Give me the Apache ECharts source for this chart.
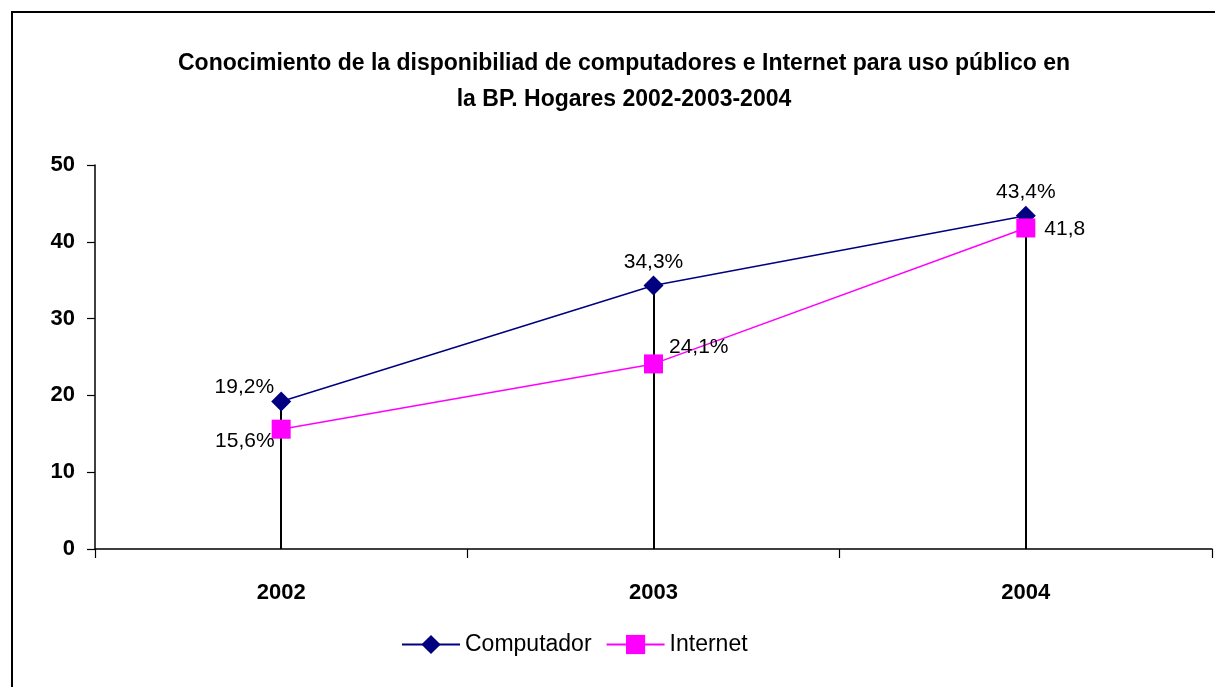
<!DOCTYPE html>
<html>
<head>
<meta charset="utf-8">
<script src="https://cdn.jsdelivr.net/npm/echarts@6/dist/echarts.min.js"></script>
<style>
  html, body { margin: 0; padding: 0; background: #fff; }
  #chart { width: 1215px; height: 687px; }
</style>
</head>
<body>
<div id="chart"></div>
<script>
const years = ['2002', '2003', '2004'];
const computador = [19.2, 34.3, 43.4];
const internet = [15.6, 24.1, 41.8];
const computadorLabels = ['19,2%', '34,3%', '43,4%'];
const internetLabels = ['15,6%', '24,1%', '41,8'];
const yTicks = [0, 10, 20, 30, 40, 50];

const font = '"Liberation Sans Narrow", "Arial Narrow", "Liberation Sans", sans-serif';

// label placement per point, like the original chart
const compPos = [
  { position: 'left', offset: [8, -14] },
  { position: 'top', offset: [0, 2] },
  { position: 'top', offset: [0, 2] },
];
const netPos = [
  { position: 'left', offset: [8, 12] },
  { position: 'right', offset: [1, -17] },
  { position: 'right', offset: [4, 1] },
];

const chart = echarts.init(document.getElementById('chart'));

chart.setOption({
  animation: false,
  textStyle: { fontFamily: font },
  title: {
    text: 'Conocimiento de la disponibiliad de computadores e Internet para uso público en\nla BP. Hogares 2002-2003-2004',
    left: 619,
    textAlign: 'center',
    top: 41,
    textStyle: { fontFamily: font, fontSize: 23, fontWeight: 'bold', color: '#000', lineHeight: 36 },
  },
  graphic: [
    {
      type: 'rect',
      shape: { x: 12, y: 12, width: 1300, height: 800 },
      style: { fill: 'none', stroke: '#000', lineWidth: 2 },
      silent: true,
      z: 100,
    },
  ],
  legend: {
    left: 396,
    top: 628,
    itemWidth: 58,
    itemHeight: 24,
    itemGap: 14,
    textStyle: { fontFamily: font, fontSize: 23, color: '#000' },
    data: ['Computador', 'Internet'],
  },
  grid: { left: 95, right: 3, top: 165, bottom: 138 },
  xAxis: {
    type: 'category',
    data: years,
    boundaryGap: true,
    axisLine: { lineStyle: { color: '#000', width: 1.5 } },
    axisTick: { show: true, length: 9, lineStyle: { color: '#000', width: 1.2 } },
    axisLabel: { color: '#000', fontSize: 22, fontWeight: 'bold', margin: 33, fontFamily: font },
    splitLine: { show: false },
  },
  yAxis: {
    type: 'value',
    min: yTicks[0],
    max: yTicks[yTicks.length - 1],
    interval: 10,
    axisLine: { show: true, lineStyle: { color: '#000', width: 1.5 } },
    axisTick: { show: true, length: 8, lineStyle: { color: '#000', width: 1.2 } },
    axisLabel: { color: '#000', fontSize: 22, fontWeight: 'bold', margin: 20, fontFamily: font },
    splitLine: { show: false },
  },
  series: [
    {
      name: 'Computador',
      type: 'line',
      symbol: 'diamond',
      symbolSize: 20,
      z: 3,
      itemStyle: { color: '#000080' },
      lineStyle: { color: '#000080', width: 1.5 },
      data: computador.map((v, i) => ({
        value: v,
        label: {
          show: true,
          formatter: computadorLabels[i],
          position: compPos[i].position,
          offset: compPos[i].offset,
          fontSize: 21,
          color: '#000',
          fontFamily: font,
        },
      })),
      markLine: {
        silent: true,
        symbol: 'none',
        label: { show: false },
        lineStyle: { color: '#000', width: 2, type: 'solid' },
        z: 1,
        data: years.map((y, i) => [
          { coord: [y, 0] },
          { coord: [y, Math.max(computador[i], internet[i])] },
        ]),
      },
    },
    {
      name: 'Internet',
      type: 'line',
      symbol: 'rect',
      symbolSize: 19,
      z: 4,
      itemStyle: { color: '#FF00FF' },
      lineStyle: { color: '#FF00FF', width: 1.5 },
      data: internet.map((v, i) => ({
        value: v,
        label: {
          show: true,
          formatter: internetLabels[i],
          position: netPos[i].position,
          offset: netPos[i].offset,
          fontSize: 21,
          color: '#000',
          fontFamily: font,
        },
      })),
    },
  ],
});
</script>
</body>
</html>
